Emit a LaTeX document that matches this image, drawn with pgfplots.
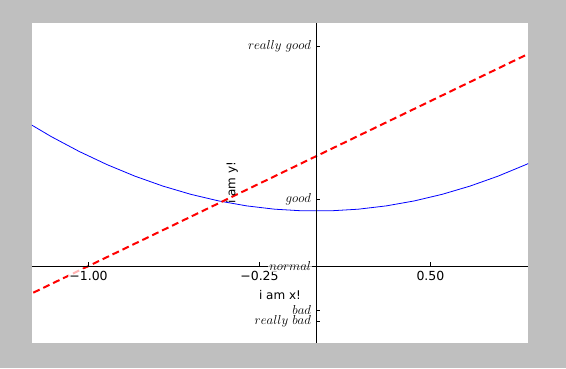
\RequirePackage{fix-cm}
\documentclass[border=0pt]{standalone}
\usepackage{fontspec}
\setmainfont{DejaVu Sans}
\usepackage{pgfplots}
\pgfplotsset{compat=1.18}
\definecolor{figbg}{RGB}{191,191,191}
\begin{document}
\fontsize{12}{14}\selectfont
\begin{tikzpicture}[x=1pt,y=1pt]
\fill[figbg] (0,0) rectangle (566,368);
\fill[white] (32,25) rectangle (528,345);
\begin{axis}[at={(32pt,25pt)}, anchor=south west, scale only axis,
  width=496pt, height=320pt,
  xmin=-1.248, xmax=0.928, ymin=-2.4, ymax=3.42,
  hide axis, clip mode=individual]
\addplot[blue, line width=0.8pt] coordinates {
(-1.2857,1.6531) (-1.1633,1.3532) (-1.0408,1.0833) (-0.9184,0.8435)
(-0.7959,0.6335) (-0.6735,0.4536) (-0.5510,0.3036) (-0.4286,0.1837)
(-0.3061,0.0937) (-0.1837,0.0337) (-0.0612,0.0037) (0.0612,0.0037)
(0.1837,0.0337) (0.3061,0.0937) (0.4286,0.1837) (0.5510,0.3036)
(0.6735,0.4536) (0.7959,0.6335) (0.9184,0.8435) (1.0408,1.0833)};
\addplot[red, line width=2pt, dash pattern=on 7pt off 4pt] coordinates {
(-1.2857,-1.5714) (1.0408,3.0816)};
\draw[black, line width=0.8pt] (axis cs:-1.248,-1) -- (axis cs:0.928,-1);
\draw[black, line width=0.8pt] (axis cs:0,-2.4) -- (axis cs:0,3.42);
\draw[black, line width=0.5pt] (axis cs:-1,-1) -- ++(0pt,4pt);
\draw[black, line width=0.5pt] (axis cs:-0.25,-1) -- ++(0pt,4pt);
\draw[black, line width=0.5pt] (axis cs:0.5,-1) -- ++(0pt,4pt);
\draw[black, line width=0.5pt] (axis cs:0,3) -- ++(4pt,0pt);
\draw[black, line width=0.5pt] (axis cs:0,0.22) -- ++(4pt,0pt);
\draw[black, line width=0.5pt] (axis cs:0,-1) -- ++(4pt,0pt);
\draw[black, line width=0.5pt] (axis cs:0,-1.8) -- ++(4pt,0pt);
\draw[black, line width=0.5pt] (axis cs:0,-2) -- ++(4pt,0pt);
\node[fill=white, fill opacity=0.7, text opacity=1, inner sep=1.5pt, anchor=north, yshift=-3pt, font=\fontsize{12.5}{14}\selectfont] at (axis cs:-1,-1) {−1.00};
\node[fill=white, fill opacity=0.7, text opacity=1, inner sep=1.5pt, anchor=north, yshift=-3pt, font=\fontsize{12.5}{14}\selectfont] at (axis cs:-0.25,-1) {−0.25};
\node[fill=white, fill opacity=0.7, text opacity=1, inner sep=1.5pt, anchor=north, yshift=-3pt, font=\fontsize{12.5}{14}\selectfont] at (axis cs:0.5,-1) {0.50};
\node[fill=white, fill opacity=0.7, text opacity=1, inner sep=1.2pt, anchor=east, xshift=-4pt, font=\fontsize{13}{15}\selectfont] at (axis cs:0,3) {$really\ good$};
\node[fill=white, fill opacity=0.7, text opacity=1, inner sep=1.2pt, anchor=east, xshift=-4pt, font=\fontsize{13}{15}\selectfont] at (axis cs:0,0.22) {$good$};
\node[fill=white, fill opacity=0.7, text opacity=1, inner sep=1.2pt, anchor=east, xshift=-4pt, font=\fontsize{13}{15}\selectfont] at (axis cs:0,-1) {$normal$};
\node[fill=white, fill opacity=0.7, text opacity=1, inner sep=1.2pt, anchor=east, xshift=-4pt, font=\fontsize{13}{15}\selectfont] at (axis cs:0,-1.8) {$bad$};
\node[fill=white, fill opacity=0.7, text opacity=1, inner sep=1.2pt, anchor=east, xshift=-4pt, font=\fontsize{13}{15}\selectfont] at (axis cs:0,-2) {$really\ bad$};
\end{axis}
\node at (280,73) {i am x!};
\node[rotate=90] at (232,185) {i am y!};
\end{tikzpicture}
\end{document}
